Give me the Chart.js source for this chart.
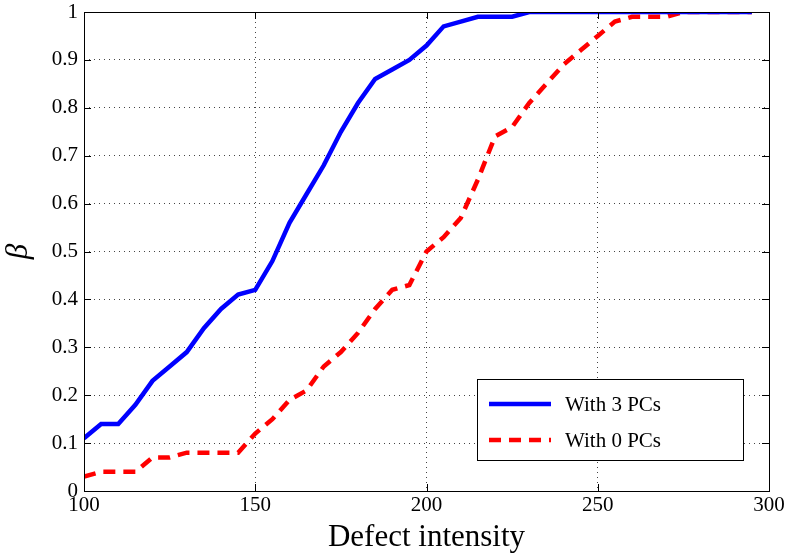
<!DOCTYPE html>
<html><head><meta charset="utf-8">
<script src="https://cdn.jsdelivr.net/npm/chart.js@4"></script>
<style>html,body{margin:0;padding:0;background:#fff}#wrap{width:790px;height:556px}</style>
</head><body><div id="wrap"><canvas id="c" width="790" height="556"></canvas></div>
<script>
const xValues = [100,105,110,115,120,125,130,135,140,145,150,155,160,165,170,175,180,185,190,195,200,205,210,215,220,225,230,235,240,245,250,255,260,265,270,275,280,285,290,295];
const with3PCs = [0.11,0.14,0.14,0.18,0.23,0.26,0.29,0.34,0.38,0.41,0.42,0.48,0.56,0.62,0.68,0.75,0.81,0.86,0.88,0.90,0.93,0.97,0.98,0.99,0.99,0.99,1,1,1,1,1,1,1,1,1,1,1,1,1,1];
const with0PCs = [0.03,0.04,0.04,0.04,0.07,0.07,0.08,0.08,0.08,0.08,0.12,0.15,0.19,0.21,0.26,0.29,0.33,0.38,0.42,0.43,0.50,0.53,0.57,0.65,0.74,0.76,0.81,0.85,0.89,0.92,0.95,0.98,0.99,0.99,0.99,1,1,1,1,1];
const seriesNames = ['With 3 PCs','With 0 PCs'];
const xTicks = [100,150,200,250,300];
const yTicks = [0,0.1,0.2,0.3,0.4,0.5,0.6,0.7,0.8,0.9,1];

const FONT = '"Liberation Serif", "DejaVu Serif", serif';

const boxPlugin = {
  id:'box',
  afterDraw(chart){
    const {ctx, chartArea:a, scales:{x,y}} = chart;
    ctx.save();
    ctx.strokeStyle='#000'; ctx.lineWidth=1;
    ctx.strokeRect(a.left+0.5,a.top+0.5,a.right-a.left,a.bottom-a.top);
    ctx.beginPath();
    xTicks.forEach(v=>{const px=Math.round(x.getPixelForValue(v))+0.5;
      ctx.moveTo(px,a.bottom); ctx.lineTo(px,a.bottom-7);
      ctx.moveTo(px,a.top); ctx.lineTo(px,a.top+7);});
    yTicks.forEach(v=>{const py=Math.round(y.getPixelForValue(v))+0.5;
      ctx.moveTo(a.left,py); ctx.lineTo(a.left+7,py);
      ctx.moveTo(a.right,py); ctx.lineTo(a.right-7,py);});
    ctx.stroke();
    // legend
    const lx=477, ly=379, lw=266, lh=81;
    ctx.fillStyle='#fff'; ctx.fillRect(lx,ly,lw,lh);
    ctx.strokeRect(lx+0.5,ly+0.5,lw,lh);
    const ds=chart.data.datasets;
    [0,1].forEach(i=>{
      const yy=ly+25+i*36;
      ctx.beginPath();
      ctx.strokeStyle=ds[i].borderColor; ctx.lineWidth=4.5;
      ctx.setLineDash(ds[i].borderDash||[]);
      ctx.moveTo(lx+12,yy); ctx.lineTo(lx+74,yy); ctx.stroke();
      ctx.setLineDash([]);
      ctx.fillStyle='#000'; ctx.font='21px '+FONT; ctx.textBaseline='middle';
      ctx.fillText(seriesNames[i], lx+88, yy+1);
    });
    ctx.restore();
  }
};

new Chart(document.getElementById('c'), {
  type:'line',
  data:{datasets:[
    {label:seriesNames[0], data:xValues.map((v,i)=>({x:v,y:with3PCs[i]})), borderColor:'#0000ff', borderWidth:4.5, pointRadius:0, fill:false, tension:0},
    {label:seriesNames[1], data:xValues.map((v,i)=>({x:v,y:with0PCs[i]})), borderColor:'#ff0000', borderWidth:4.5, borderDash:[12,8], pointRadius:0, fill:false, tension:0}
  ]},
  options:{
    responsive:false, animation:false,
    layout:{padding:{top:12,right:21,left:0,bottom:0}},
    plugins:{legend:{display:false}, tooltip:{enabled:false}},
    scales:{
      x:{type:'linear', min:100, max:300,
        afterBuildTicks(s){s.ticks=xTicks.map(v=>({value:v}));},
        grid:{color:'#444', drawTicks:false, lineWidth:1},
        border:{display:false, dash:[1,4]},
        ticks:{font:{family:FONT,size:21}, color:'#000', padding:2, maxRotation:0},
        title:{display:true, text:'Defect intensity', font:{family:FONT,size:31}, color:'#000', padding:{top:6,bottom:0}},
        afterFit(s){s.height=65; s.paddingLeft=0; s.paddingRight=0;}
      },
      y:{type:'linear', min:0, max:1,
        afterBuildTicks(s){s.ticks=yTicks.map(v=>({value:v}));},
        grid:{color:'#444', drawTicks:false, lineWidth:1},
        border:{display:false, dash:[1,4]},
        ticks:{font:{family:FONT,size:21}, color:'#000', padding:6, callback:v=>String(v)},
        title:{display:true, text:'β', font:{family:FONT,size:31,style:'italic'}, color:'#000', padding:{top:0,bottom:4}},
        afterFit(s){s.width=84; s.paddingTop=0; s.paddingBottom=0;}
      }
    }
  },
  plugins:[boxPlugin]
});
</script></body></html>
